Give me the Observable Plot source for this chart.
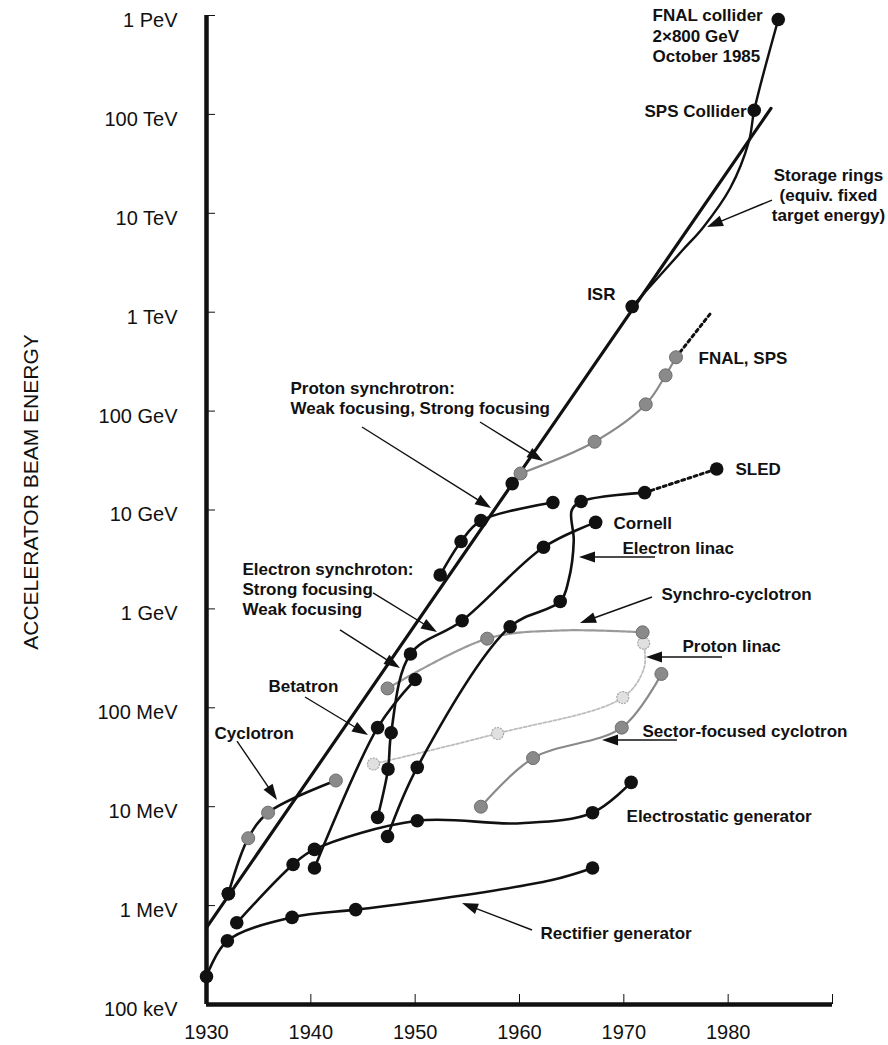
<!DOCTYPE html>
<html><head><meta charset="utf-8">
<script src="https://cdn.jsdelivr.net/npm/d3@7"></script>
<script src="https://cdn.jsdelivr.net/npm/@observablehq/plot@0.6"></script>
<style>body{margin:0;background:#fff}</style>
</head><body><div id="chart"></div>
<script>
// ---- data: [year, energy in eV, dot kind ("b" black, "g" gray, "l" light, "" none)] ----
const envelope = [[1930, 6.0e5, ""], [1984.1, 1.15e14, ""]];
const storageRings = [[1970.8, 1.14e12, "b"], [1975.6, 4.2e12, ""], [1977.6, 7.2e12, ""], [1980.2, 1.8e13, ""], [1982.0, 5.4e13, ""], [1982.5, 1.1e14, "b"], [1984.8, 9.1e14, "b"]];
const envelopeDots = [[1932.1, 1.32e6, "b"], [1959.3, 1.85e10, "b"]];
const fnalSps = [[1960.1, 2.34e10, "g"], [1967.2, 4.9e10, "g"], [1972.1, 1.17e11, "g"], [1974.0, 2.3e11, "g"], [1975.0, 3.5e11, "g"]];
const fnalSpsFuture = [[1975.0, 3.5e11, ""], [1978.3, 9.7e11, ""]];
const protonWeak = [[1952.4, 2.2e9, "b"], [1954.4, 4.8e9, "b"], [1956.3, 7.8e9, "b"], [1963.2, 1.19e10, "b"]];
const electronLinac = [[1947.35, 5.0e6, "b"], [1950.2, 2.5e7, "b"], [1959.1, 6.6e8, "b"], [1963.9, 1.19e9, "b"], [1964.7, 1.94e9, ""], [1965.2, 4.9e9, ""], [1965.0, 9.9e9, ""], [1965.9, 1.22e10, "b"], [1972.0, 1.5e10, "b"]];
const sledFuture = [[1972.0, 1.5e10, ""], [1978.9, 2.6e10, "b"]];
const electronSynch = [[1946.4, 7.8e6, "b"], [1947.4, 2.4e7, "b"], [1947.7, 5.6e7, "b"], [1949.55, 3.5e8, "b"], [1954.5, 7.6e8, "b"], [1962.3, 4.2e9, "b"], [1967.3, 7.5e9, "b"]];
const betatron = [[1940.35, 2.4e6, "b"], [1946.4, 6.3e7, "b"], [1950.0, 1.93e8, "b"]];
const cyclotron = [[1932.1, 1.32e6, "b"], [1934.0, 4.8e6, "g"], [1935.9, 8.7e6, "g"], [1942.4, 1.84e7, "g"]];
const electrostatic = [[1932.9, 6.7e5, "b"], [1938.3, 2.6e6, "b"], [1940.35, 3.7e6, "b"], [1950.2, 7.2e6, "b"], [1960.1, 6.8e6, ""], [1967.0, 8.7e6, "b"], [1970.7, 1.76e7, "b"]];
const rectifier = [[1930, 1.92e5, "b"], [1932.0, 4.4e5, "b"], [1938.2, 7.6e5, "b"], [1944.3, 9.1e5, "b"], [1950.5, 1.1e6, ""], [1963.0, 1.8e6, ""], [1967.0, 2.4e6, "b"]];
const synchroCyclotron = [[1947.35, 1.57e8, "g"], [1956.9, 5.0e8, "g"], [1963.9, 6.05e8, ""], [1971.8, 5.8e8, "g"]];
const protonLinac = [[1946.0, 2.7e7, "l"], [1957.9, 5.5e7, "l"], [1969.9, 1.27e8, "l"], [1971.95, 2.55e8, ""], [1971.9, 4.5e8, "l"]];
const sectorCyclotron = [[1956.3, 1.0e7, "g"], [1961.3, 3.1e7, "g"], [1969.8, 6.3e7, "g"], [1973.6, 2.2e8, "g"]];

// arrows: [fromYear, fromEnergy, toYear, toEnergy]
const arrows = [
  [1984.25, 10 ** 13.129, 1978.02, 10 ** 12.856],
  [1944.95, 10 ** 10.834, 1957.32, 10 ** 10.015],
  [1956.26, 10 ** 10.885, 1962.30, 10 ** 10.490],
  [1946.01, 10 ** 9.156, 1952.14, 10 ** 8.761],
  [1942.84, 10 ** 8.782, 1948.59, 10 ** 8.397],
  [1939.49, 10 ** 8.104, 1945.53, 10 ** 7.720],
  [1932.97, 10 ** 7.659, 1936.81, 10 ** 7.063],
  [1973.04, 10 ** 9.520, 1965.75, 10 ** 9.520],
  [1972.75, 10 ** 9.115, 1965.85, 10 ** 8.852],
  [1979.46, 10 ** 8.509, 1972.17, 10 ** 8.509],
  [1975.14, 10 ** 7.669, 1967.96, 10 ** 7.669],
  [1961.25, 10 ** 5.748, 1954.54, 10 ** 6.021]
];

// labels: [text, year, energy]
const labelsStart = [
  ["FNAL collider\n2×800 GeV\nOctober 1985", 1972.75, 10 ** 14.80],
  ["FNAL, SPS", 1977.16, 10 ** 11.542],
  ["Proton synchrotron:\nWeak focusing, Strong focusing", 1938.05, 10 ** 11.137],
  ["SLED", 1980.7, 10 ** 10.42],
  ["Cornell", 1969.01, 10 ** 9.874],
  ["Electron linac", 1969.87, 10 ** 9.621],
  ["Synchro-cyclotron", 1973.61, 10 ** 9.156],
  ["Proton linac", 1975.62, 10 ** 8.63],
  ["Electron synchroton:\nStrong focusing\nWeak focusing", 1933.45, 10 ** 9.206],
  ["Betatron", 1935.94, 10 ** 8.226],
  ["Cyclotron", 1930.77, 10 ** 7.75],
  ["Sector-focused cyclotron", 1971.79, 10 ** 7.77],
  ["Electrostatic generator", 1970.26, 10 ** 6.911],
  ["Rectifier generator", 1962.01, 10 ** 5.728]
];
const labelsEnd = [
  ["SPS Collider", 1981.76, 10 ** 14.04],
  ["ISR", 1969.2, 10 ** 12.19]
];
const labelsMiddle = [
  ["Storage rings\n(equiv. fixed\ntarget energy)", 1989.62, 10 ** 13.19]
];

const xTickValues = [1930, 1940, 1950, 1960, 1970, 1980];
const xTickMarks = [1930, 1940, 1950, 1960, 1970, 1980, 1990];
const yTickValues = [1e5, 1e6, 1e7, 1e8, 1e9, 1e10, 1e11, 1e12, 1e13, 1e14, 1e15];
const yTickLabels = ["100 keV", "1 MeV", "10 MeV", "100 MeV", "1 GeV", "10 GeV", "100 GeV", "1 TeV", "10 TeV", "100 TeV", "1 PeV"];
const yTitle = "ACCELERATOR BEAM ENERGY";

// ---- build ----
const rows = (a) => a.map(([year, eV, dot]) => ({year, eV, dot}));
const S = {
  envelope: rows(envelope), storageRings: rows(storageRings), envelopeDots: rows(envelopeDots),
  fnalSps: rows(fnalSps), fnalSpsFuture: rows(fnalSpsFuture), protonWeak: rows(protonWeak),
  electronLinac: rows(electronLinac), sledFuture: rows(sledFuture), electronSynch: rows(electronSynch),
  betatron: rows(betatron), cyclotron: rows(cyclotron), electrostatic: rows(electrostatic),
  rectifier: rows(rectifier), synchroCyclotron: rows(synchroCyclotron), protonLinac: rows(protonLinac),
  sectorCyclotron: rows(sectorCyclotron)
};
const allPoints = Object.values(S).flat();
const arrowRows = arrows.map(([x1, y1, x2, y2]) => ({x1, y1, x2, y2}));
const lab = (a) => a.map(([text, year, eV]) => ({text, year, eV}));

const BLACK = "#111";
const GRAY = "#8a8a8a";
const line = (data, opts) => Plot.line(data, {x: "year", y: "eV", curve: "catmull-rom", ...opts});

function arrowMark(index, scales) {
  const g = d3.create("svg:g");
  for (const a of arrowRows) {
    const x1 = scales.x(a.x1), y1 = scales.y(a.y1), x2 = scales.x(a.x2), y2 = scales.y(a.y2);
    const ang = Math.atan2(y2 - y1, x2 - x1);
    const L = 16, W = 5.5;
    const bx = x2 - L * Math.cos(ang), by = y2 - L * Math.sin(ang);
    const px = -Math.sin(ang) * W, py = Math.cos(ang) * W;
    g.append("line").attr("x1", x1).attr("y1", y1).attr("x2", bx + 2 * Math.cos(ang)).attr("y2", by + 2 * Math.sin(ang))
      .attr("stroke", BLACK).attr("stroke-width", 1.4);
    g.append("path").attr("d", `M${x2},${y2}L${bx + px},${by + py}L${bx - px},${by - py}Z`).attr("fill", BLACK);
  }
  return g.node();
}

const textOpts = {x: "year", y: "eV", text: "text", fontWeight: "bold", fontSize: 17, lineHeight: 1.2, fill: BLACK};

const chart = Plot.plot({
  width: 888, height: 1045,
  marginLeft: 206, marginRight: 56, marginTop: 15, marginBottom: 41,
  style: {fontFamily: "'Liberation Sans', Arial, Helvetica, sans-serif", background: "white", color: BLACK},
  x: {type: "linear", domain: [1930, 1990], label: null},
  y: {type: "log", domain: [1e5, 1e15], label: null},
  marks: [
    Plot.axisX({ticks: xTickValues, tickFormat: (d) => String(d), tickSize: 0, tickPadding: 20, fontSize: 20, label: null}),
    Plot.axisY({ticks: yTickValues, tickFormat: (d) => yTickLabels[yTickValues.indexOf(d)], tickSize: 0, tickPadding: 29, dy: 5, fontSize: 20, label: null}),
    Plot.ruleY(yTickValues, {y: (d) => d, insetRight: 617, stroke: BLACK, strokeWidth: 1}),
    Plot.ruleX(xTickMarks, {x: (d) => d, insetTop: 979, stroke: BLACK, strokeWidth: 1}),
    Plot.text([yTitle], {frameAnchor: "left", textAnchor: "middle", dx: -175, dy: -18, rotate: -90, fontSize: 21, fill: BLACK}),

    // gray series
    line(S.protonLinac, {stroke: "#bdbdbd", strokeWidth: 1.8, strokeDasharray: "3,2"}),
    line(S.synchroCyclotron, {stroke: "#9a9a9a", strokeWidth: 2.2, strokeDasharray: "3,1"}),
    line(S.sectorCyclotron, {stroke: GRAY, strokeWidth: 2.2}),
    line(S.fnalSps, {stroke: GRAY, strokeWidth: 2.2}),

    // black series
    Plot.line(S.envelope, {x: "year", y: "eV", stroke: BLACK, strokeWidth: 3.2}),
    line(S.storageRings, {stroke: BLACK, strokeWidth: 2.4}),
    line(S.protonWeak, {stroke: BLACK, strokeWidth: 2.6}),
    line(S.electronLinac, {stroke: BLACK, strokeWidth: 2.6}),
    line(S.electronSynch, {stroke: BLACK, strokeWidth: 2.6}),
    line(S.betatron, {stroke: BLACK, strokeWidth: 2.6}),
    line(S.cyclotron, {stroke: BLACK, strokeWidth: 2.6}),
    line(S.electrostatic, {stroke: BLACK, strokeWidth: 2.6}),
    line(S.rectifier, {stroke: BLACK, strokeWidth: 2.6}),
    Plot.line(S.fnalSpsFuture, {x: "year", y: "eV", stroke: BLACK, strokeWidth: 3, strokeDasharray: "3,3.5"}),
    Plot.line(S.sledFuture, {x: "year", y: "eV", stroke: BLACK, strokeWidth: 3, strokeDasharray: "3,3.5"}),

    // axis lines
    Plot.ruleX([1930], {stroke: BLACK, strokeWidth: 4.5}),
    Plot.ruleY([1e5], {stroke: BLACK, strokeWidth: 4.5}),

    // dots
    Plot.dot(allPoints.filter((d) => d.dot === "l"), {x: "year", y: "eV", r: 6, fill: "#e0e0e0", stroke: "#a8a8a8", strokeWidth: 1.2, strokeDasharray: "2,1"}),
    Plot.dot(allPoints.filter((d) => d.dot === "g"), {x: "year", y: "eV", r: 6.5, fill: GRAY, stroke: "#6e6e6e", strokeWidth: 1}),
    Plot.dot(allPoints.filter((d) => d.dot === "b"), {x: "year", y: "eV", r: 6.8, fill: BLACK}),

    // labels
    Plot.text(lab(labelsStart), {...textOpts, textAnchor: "start"}),
    Plot.text(lab(labelsEnd), {...textOpts, textAnchor: "end"}),
    Plot.text(lab(labelsMiddle), {...textOpts, textAnchor: "middle"}),

    arrowMark
  ]
});
document.getElementById("chart").append(chart);
</script>
</body></html>
